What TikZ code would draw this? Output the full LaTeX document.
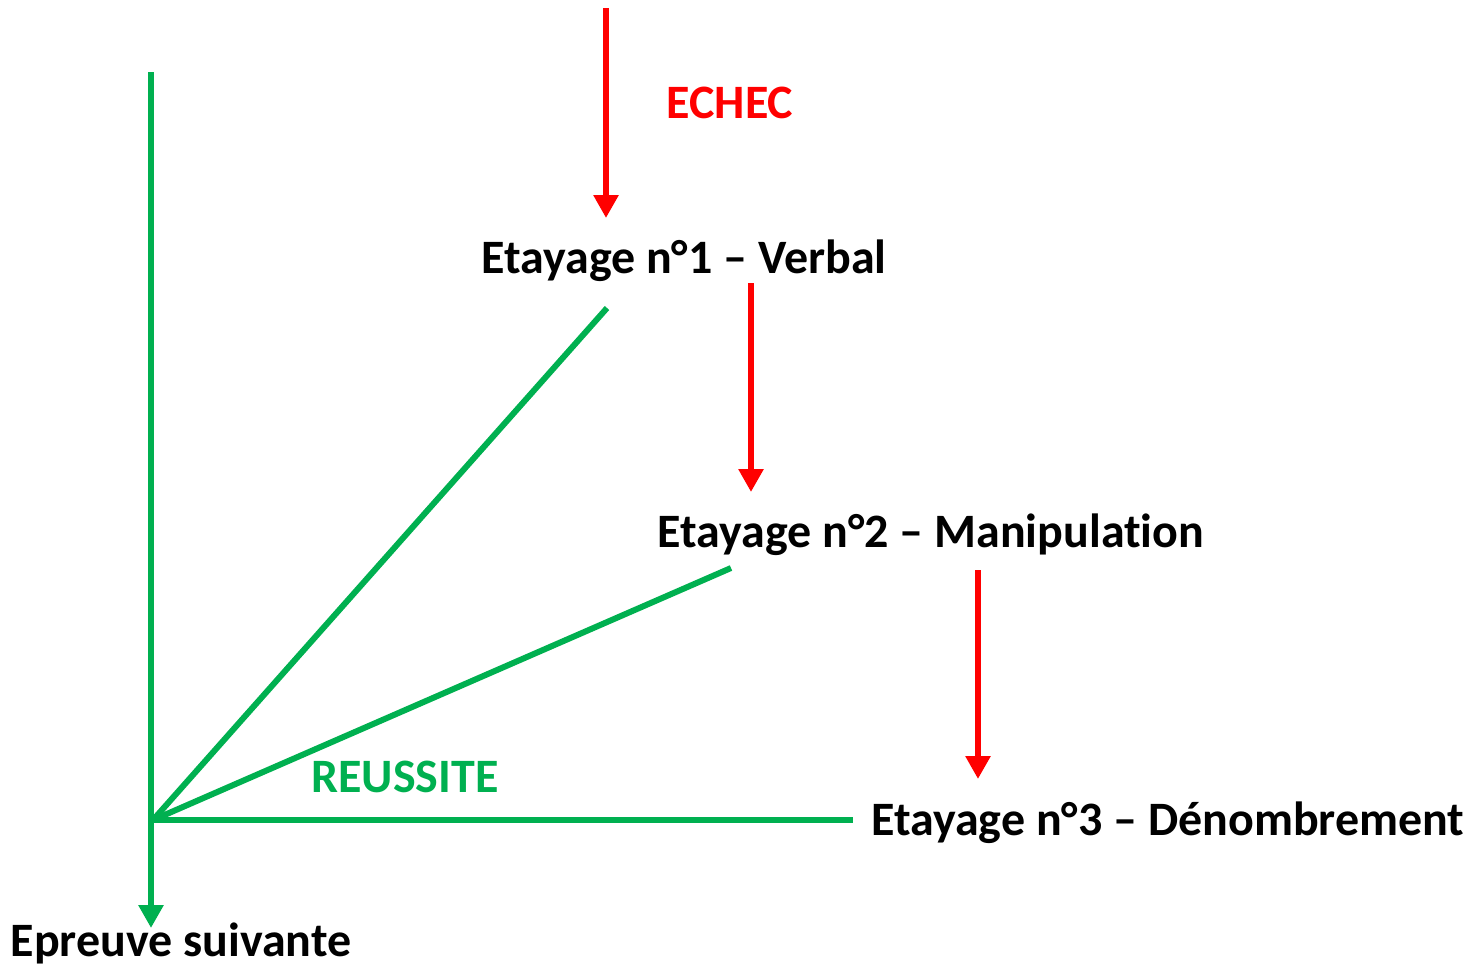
\documentclass[tikz,border=0pt]{standalone}
\usepackage{fontspec}
\setmainfont{Carlito}[Ligatures={NoCommon}]
\usetikzlibrary{arrows.meta}
\definecolor{okgreen}{HTML}{00B050}
\definecolor{kored}{HTML}{FF0000}
\begin{document}
\begin{tikzpicture}[x=0.02cm,y=-0.02cm,
  lbl/.style={font=\bfseries\fontsize{27.3}{32}\selectfont, inner sep=0pt, anchor=base},
  redarrow/.style={draw=kored, line width=3.4pt, -{Triangle[width=0.48cm,length=0.46cm]}},
  greenline/.style={draw=okgreen, line width=3.4pt},
  greenarrow/.style={greenline, -{Triangle[width=0.48cm,length=0.46cm]}}]
\useasboundingbox (0,0) rectangle (1473,964);
% text nodes
\node[lbl, text=kored] (echec) at (730,118) {ECHEC};
\node[lbl] (e1) at (684,273) {Etayage n°1 – Verbal};
\node[lbl] (e2) at (931,547) {Etayage n°2 – Manipulation};
\node[lbl] (e3) at (1168,835) {Etayage n°3 – Dénombrement};
\node[lbl, text=okgreen] (reussite) at (405,792) {REUSSITE};
\node[lbl] (suiv) at (181,956) {Epreuve suivante};
% coordinates
\coordinate (r1s) at (606,8);
\coordinate (r1e) at (606,218);
\coordinate (r2s) at (751,283);
\coordinate (r2e) at (751,492);
\coordinate (r3s) at (978,570);
\coordinate (r3e) at (978,779);
\coordinate (gtop) at (151,72);
\coordinate (gbot) at (151,928);
\coordinate (j) at (153,820);
\coordinate (g1) at (607,308);
\coordinate (g2) at (731,568);
\coordinate (g3) at (853,820);
% red arrows
\draw[redarrow] (r1s) -- (r1e);
\draw[redarrow] (r2s) -- (r2e);
\draw[redarrow] (r3s) -- (r3e);
% green
\draw[greenarrow] (gtop) -- (gbot);
\draw[greenline] (j) -- (g1);
\draw[greenline] (j) -- (g2);
\draw[greenline] (j) -- (g3);
\end{tikzpicture}
\end{document}
